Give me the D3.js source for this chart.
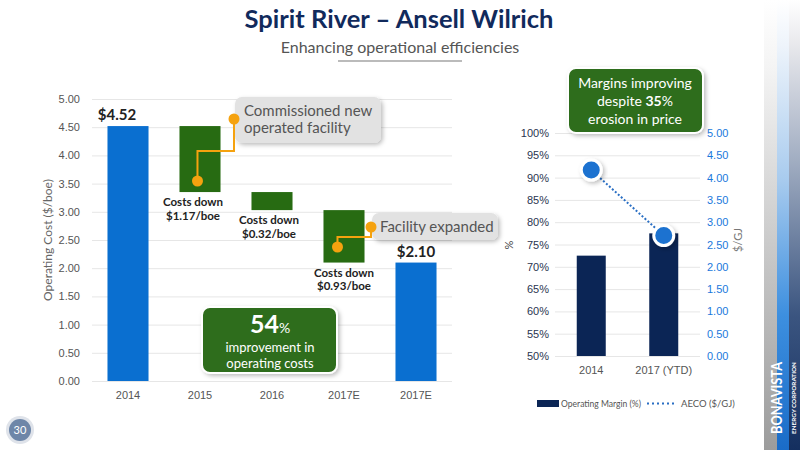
<!DOCTYPE html>
<html>
<head>
<meta charset="utf-8">
<script src="https://cdn.jsdelivr.net/npm/d3@7"></script>
<style>
  body { margin: 0; background: #fff; }
  svg { font-family: Lato, "Open Sans", sans-serif; }
  .grid line { stroke: #e6e6e6; }
  .grid .domain { display: none; }
  .ticklbl text { font-size: 11px; }
</style>
</head>
<body>
<svg class="slide" width="800" height="450"></svg>
<script>
/* chart values */
var costLabels = ["2014", "2015", "2016", "2017E", "2017E"];
var costValues = [4.52, -1.17, -0.32, -0.93, 2.10];
var costIsTotal = [true, false, false, false, true];
var costTicks = [0, 0.5, 1, 1.5, 2, 2.5, 3, 3.5, 4, 4.5, 5];

var marginCats = ["2014", "2017 (YTD)"];
var marginValues = [72.5, 77.5];
var aecoValues = [4.17, 2.70];
var marginTicks = [50, 55, 60, 65, 70, 75, 80, 85, 90, 95, 100];
var aecoTicks = [0, 0.5, 1, 1.5, 2, 2.5, 3, 3.5, 4, 4.5, 5];

var svg = d3.select(".slide");
var defs = svg.append("defs");

/* drop shadow for the boxes */
var f = defs.append("filter").attr("id", "shadow").attr("x", "-20%").attr("y", "-20%").attr("width", "150%").attr("height", "160%");
f.append("feDropShadow").attr("dx", 2).attr("dy", 2).attr("stdDeviation", 2).attr("flood-color", "#000").attr("flood-opacity", 0.25);

/* ---------- title ---------- */
svg.append("text").attr("x", 399).attr("y", 28).attr("text-anchor", "middle")
  .attr("font-size", 25.5).attr("font-weight", "bold").attr("fill", "#112a5c")
  .text("Spirit River – Ansell Wilrich");
svg.append("text").attr("x", 400).attr("y", 53).attr("text-anchor", "middle")
  .attr("font-size", 16).attr("fill", "#555")
  .text("Enhancing operational efficiencies");
svg.append("line").attr("x1", 338).attr("x2", 462).attr("y1", 61).attr("y2", 61)
  .attr("stroke", "#bbb").attr("stroke-width", 2);

/* ---------- left chart: operating cost waterfall ---------- */
var x = d3.scaleBand().domain(d3.range(costLabels.length)).range([92, 452]).paddingInner(0.43).paddingOuter(0.215);
var y = d3.scaleLinear().domain([0, 5]).range([381, 99]);

svg.append("g").attr("class", "grid")
  .attr("transform", "translate(92,0)")
  .call(d3.axisLeft(y).tickValues(costTicks).tickSize(-360).tickFormat(""));

svg.append("g").attr("class", "ticklbl").attr("color", "#555")
  .attr("transform", "translate(92,0)")
  .call(d3.axisLeft(y).tickValues(costTicks).tickSize(0).tickPadding(12).tickFormat(d3.format(".2f")))
  .call(function(g) { g.select(".domain").remove(); });

svg.append("g").attr("class", "ticklbl").attr("color", "#555")
  .attr("transform", "translate(0,381)")
  .call(d3.axisBottom(x).tickSize(0).tickPadding(10).tickFormat(function(i) { return costLabels[i]; }))
  .call(function(g) { g.select(".domain").remove(); });

svg.append("text").attr("transform", "translate(52,240) rotate(-90)")
  .attr("text-anchor", "middle").attr("font-size", 12).attr("fill", "#666")
  .text("Operating Cost ($/boe)");

/* waterfall bases */
var running = 0;
var steps = costValues.map(function(v, i) {
  var lo, hi;
  if (costIsTotal[i]) { lo = 0; hi = v; running = v; }
  else { hi = running; lo = running + v; running = lo; }
  return {i: i, lo: lo, hi: hi, v: v, total: costIsTotal[i]};
});

svg.selectAll(".bar").data(steps).enter().append("rect")
  .attr("class", "bar")
  .attr("x", function(d) { return x(d.i); })
  .attr("width", x.bandwidth())
  .attr("y", function(d) { return y(d.hi); })
  .attr("height", function(d) { return y(d.lo) - y(d.hi); })
  .attr("fill", function(d) { return d.total ? "#0a6fd0" : "#276b12"; });

/* totals */
var totals = steps.filter(function(d) { return d.total; });
svg.selectAll(".totlbl").data(totals).enter().append("text")
  .attr("x", function(d) { return x(d.i) + x.bandwidth() / 2 + (d.i == 0 ? -11 : 0); })
  .attr("y", function(d) { return y(d.hi) - 6; })
  .attr("text-anchor", "middle").attr("font-size", 15).attr("font-weight", "bold").attr("fill", "#222")
  .text(function(d) { return "$" + d.v.toFixed(2); });

/* step labels, two text lines each */
var stepLbl = steps.filter(function(d) { return !d.total; });
var dx = [-7, -3, 0];
function lx(d, k) { return x(d.i) + x.bandwidth() / 2 + dx[k]; }
svg.selectAll(".steplbl1").data(stepLbl).enter().append("text")
  .attr("text-anchor", "middle").attr("font-size", 11.5).attr("font-weight", "bold").attr("fill", "#222")
  .attr("x", lx).attr("y", function(d) { return y(d.lo) + 14; })
  .text("Costs down");
svg.selectAll(".steplbl2").data(stepLbl).enter().append("text")
  .attr("text-anchor", "middle").attr("font-size", 11.5).attr("font-weight", "bold").attr("fill", "#222")
  .attr("x", lx).attr("y", function(d) { return y(d.lo) + 27.5; })
  .text(function(d) { return "$" + Math.abs(d.v).toFixed(2) + "/boe"; });

/* grey callouts */
function callout(bx, by, bw, bh, lines, tx, ty) {
  svg.append("rect").attr("x", bx).attr("y", by).attr("width", bw).attr("height", bh)
    .attr("rx", 7).attr("fill", "#e2e2e2").attr("filter", "url(#shadow)");
  lines.forEach(function(s, k) {
    svg.append("text").attr("font-size", 15).attr("fill", "#555")
      .attr("x", tx).attr("y", ty + k * 17).text(s);
  });
}
callout(235, 97, 146, 46, ["Commissioned new", "operated facility"], 244, 116);
callout(372, 213, 126, 27, ["Facility expanded"], 380, 232);

/* orange connectors */
function connector(x0, y0, ym, x1, y1) {
  svg.append("path")
    .attr("d", "M" + x0 + "," + y0 + "V" + ym + "H" + x1 + "V" + y1)
    .attr("fill", "none").attr("stroke", "#f5a20f").attr("stroke-width", 2);
  svg.append("circle").attr("cx", x0).attr("cy", y0).attr("r", 5.5).attr("fill", "#f5a20f");
  svg.append("circle").attr("cx", x1).attr("cy", y1).attr("r", 5.5).attr("fill", "#f5a20f");
}
connector(x(1) + 18, 181, 151, 234, 119);
connector(x(3) + 14, 247, 237, 371, 227);

/* green box left */
svg.append("rect").attr("x", 202).attr("y", 307).attr("width", 135).attr("height", 66)
  .attr("rx", 8).attr("fill", "#2e6d1b").attr("stroke", "#fff").attr("stroke-width", 2).attr("filter", "url(#shadow)");
var g54 = svg.append("text").attr("x", 270).attr("y", 333).attr("text-anchor", "middle").attr("fill", "#fff");
g54.append("tspan").attr("font-size", 25).attr("font-weight", "bold").text("54");
g54.append("tspan").attr("font-size", 14).text("%");
svg.append("text").attr("x", 270).attr("y", 352).attr("text-anchor", "middle").attr("fill", "#fff").attr("font-size", 13).text("improvement in");
svg.append("text").attr("x", 270).attr("y", 368).attr("text-anchor", "middle").attr("fill", "#fff").attr("font-size", 13).text("operating costs");

/* ---------- right chart: margin vs AECO ---------- */
var x2 = d3.scaleBand().domain(marginCats).range([555, 700]).paddingInner(0.6).paddingOuter(0.3);
var yL = d3.scaleLinear().domain([50, 100]).range([356, 133]);
var yR = d3.scaleLinear().domain([0, 5]).range([356, 133]);

svg.append("g").attr("class", "grid")
  .attr("transform", "translate(555,0)")
  .call(d3.axisLeft(yL).tickValues(marginTicks).tickSize(-145).tickFormat(""));

svg.append("g").attr("class", "ticklbl").attr("color", "#2a3550")
  .attr("transform", "translate(555,0)")
  .call(d3.axisLeft(yL).tickValues(marginTicks).tickSize(0).tickPadding(6).tickFormat(function(d) { return d + "%"; }))
  .call(function(g) { g.select(".domain").remove(); });

svg.append("g").attr("class", "ticklbl").attr("color", "#1a78dc")
  .attr("transform", "translate(700,0)")
  .call(d3.axisRight(yR).tickValues(aecoTicks).tickSize(0).tickPadding(7).tickFormat(d3.format(".2f")))
  .call(function(g) { g.select(".domain").remove(); });

svg.append("g").attr("class", "ticklbl").attr("color", "#555")
  .attr("transform", "translate(0,356)")
  .call(d3.axisBottom(x2).tickSize(0).tickPadding(10))
  .call(function(g) { g.select(".domain").remove(); });

svg.append("text").attr("transform", "translate(513,245) rotate(-90)")
  .attr("text-anchor", "middle").attr("font-size", 11).attr("fill", "#444").text("%");
svg.append("text").attr("transform", "translate(742,240) rotate(-90)")
  .attr("text-anchor", "middle").attr("font-size", 11).attr("fill", "#777").text("$/GJ");

svg.selectAll(".mbar").data(marginValues).enter().append("rect")
  .attr("x", function(d, i) { return x2(marginCats[i]); })
  .attr("width", x2.bandwidth())
  .attr("y", function(d) { return yL(d); })
  .attr("height", function(d) { return yL(50) - yL(d); })
  .attr("fill", "#0b2555");

var line = d3.line()
  .x(function(d, i) { return x2(marginCats[i]) + x2.bandwidth() / 2; })
  .y(function(d) { return yR(d); });
svg.append("path").datum(aecoValues).attr("d", line)
  .attr("fill", "none").attr("stroke", "#2a6fc4").attr("stroke-width", 2).attr("stroke-dasharray", "2,2");
svg.selectAll(".pt").data(aecoValues).enter().append("circle")
  .attr("cx", function(d, i) { return x2(marginCats[i]) + x2.bandwidth() / 2; })
  .attr("cy", function(d) { return yR(d); })
  .attr("r", 10).attr("fill", "#1a72d0").attr("stroke", "#fff").attr("stroke-width", 3)
  .attr("filter", "url(#shadow)");

/* legend */
svg.append("rect").attr("x", 537).attr("y", 400).attr("width", 22).attr("height", 7).attr("fill", "#0b2555");
svg.append("text").attr("x", 561).attr("y", 407).attr("font-size", 9.5).attr("fill", "#555")
  .attr("textLength", 80).attr("lengthAdjust", "spacingAndGlyphs").text("Operating Margin (%)");
svg.append("line").attr("x1", 647).attr("x2", 677).attr("y1", 403.5).attr("y2", 403.5)
  .attr("stroke", "#2a6fc4").attr("stroke-width", 2).attr("stroke-dasharray", "2,3");
svg.append("text").attr("x", 681).attr("y", 407).attr("font-size", 9.5).attr("fill", "#555").text("AECO ($/GJ)");

/* green box right */
svg.append("rect").attr("x", 568).attr("y", 68).attr("width", 135).attr("height", 65)
  .attr("rx", 8).attr("fill", "#2e6d1b").attr("stroke", "#fff").attr("stroke-width", 2).attr("filter", "url(#shadow)");
svg.append("text").attr("x", 635).attr("y", 88).attr("text-anchor", "middle").attr("fill", "#fff").attr("font-size", 14).text("Margins improving");
var d35 = svg.append("text").attr("x", 635).attr("y", 106).attr("text-anchor", "middle").attr("fill", "#fff").attr("font-size", 14);
d35.append("tspan").text("despite ");
d35.append("tspan").attr("font-weight", "bold").text("35");
d35.append("tspan").text("%");
svg.append("text").attr("x", 635).attr("y", 124).attr("text-anchor", "middle").attr("fill", "#fff").attr("font-size", 14).text("erosion in price");

/* ---------- branding strip ---------- */
function grad(id, stops) {
  var lg = defs.append("linearGradient").attr("id", id).attr("x1", 0).attr("x2", 0).attr("y1", 0).attr("y2", 1);
  stops.forEach(function(s) { lg.append("stop").attr("offset", s[0]).attr("stop-color", s[1]); });
}
grad("gGrey", [[0, "#ffffff"], [0.15, "#f4f4f4"], [0.6, "#c4c4c4"], [1, "#9c9c9c"]]);
grad("gBlue", [[0, "#ffffff"], [0.1, "#eef4fb"], [0.4, "#a8cbee"], [0.7, "#3d8fdf"], [1, "#1a6cc8"]]);
grad("gNavy", [[0, "#ffffff"], [0.1, "#e8e8ec"], [0.35, "#a3afc3"], [0.7, "#3b5580"], [1, "#142f5f"]]);
svg.append("rect").attr("x", 764).attr("y", 0).attr("width", 13).attr("height", 450).attr("fill", "url(#gGrey)");
svg.append("rect").attr("x", 777).attr("y", 0).attr("width", 12).attr("height", 450).attr("fill", "url(#gBlue)");
svg.append("rect").attr("x", 789).attr("y", 0).attr("width", 11).attr("height", 450).attr("fill", "url(#gNavy)");
svg.append("text").attr("transform", "translate(782,434) rotate(-90)")
  .attr("font-size", 15).attr("font-weight", "bold").attr("fill", "#fff").attr("textLength", 72)
  .attr("lengthAdjust", "spacingAndGlyphs")
  .text("BONAVISTA");
svg.append("text").attr("transform", "translate(796,434) rotate(-90)")
  .attr("font-size", 6).attr("font-weight", "bold").attr("fill", "#fff").attr("textLength", 72)
  .attr("lengthAdjust", "spacingAndGlyphs")
  .text("ENERGY CORPORATION");

/* page number */
svg.append("circle").attr("cx", 20).attr("cy", 430).attr("r", 14).attr("fill", "#dfe3ea");
svg.append("circle").attr("cx", 20).attr("cy", 430).attr("r", 11).attr("fill", "#6e86a8");
svg.append("text").attr("x", 20).attr("y", 434).attr("text-anchor", "middle").attr("font-size", 11).attr("fill", "#fff").text("30");
</script>
</body>
</html>
